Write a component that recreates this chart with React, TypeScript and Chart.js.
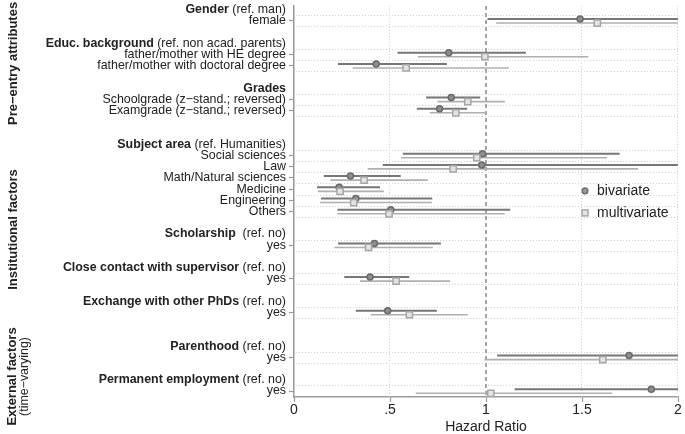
import React, { useEffect, useRef } from "react";
import { Chart, registerables } from "chart.js";

Chart.register(...registerables);

const FONT = "'Liberation Sans', Arial, Helvetica, sans-serif";

// Data rows (y positions are row indices in the coefplot layout)
const rowLabels = [
  "female",
  "father/mother with HE degree",
  "father/mother with doctoral degree",
  "Schoolgrade (z\u2212stand.; reversed)",
  "Examgrade (z\u2212stand.; reversed)",
  "Social sciences",
  "Law",
  "Math/Natural sciences",
  "Medicine",
  "Engineering",
  "Others",
  "yes",
  "yes",
  "yes",
  "yes",
  "yes",
];
const rowPositions = [1, 4, 5, 8, 9, 13, 14, 15, 16, 17, 18, 21, 24, 27, 31, 34];

const headerPositions = [0, 3, 7, 12, 20, 23, 26, 30, 33];
const headerBold = [
  "Gender",
  "Educ. background",
  "Grades",
  "Subject area",
  "Scholarship",
  "Close contact with supervisor",
  "Exchange with other PhDs",
  "Parenthood",
  "Permanent employment",
];
const headerNote = [
  " (ref. man)",
  " (ref. non acad. parents)",
  "",
  " (ref. Humanities)",
  "  (ref. no)",
  " (ref. no)",
  " (ref. no)",
  " (ref. no)",
  " (ref. no)",
];

const groupNames = ["Pre\u2212entry attributes", "Institutional factors", "External factors"];
const groupNotes = ["", "", "(time\u2212varying)"];
const groupCenters = [4.8, 19.6, 32.7];

// Hazard ratios and 95% CIs
const bivEst = [1.49, 0.806, 0.428, 0.819, 0.758, 0.982, 0.978, 0.294, 0.235, 0.322, 0.504, 0.419, 0.396, 0.488, 1.745, 1.861];
const bivLo = [1.008, 0.539, 0.229, 0.688, 0.64, 0.567, 0.462, 0.155, 0.12, 0.141, 0.226, 0.229, 0.262, 0.322, 1.058, 1.149];
const bivHi = [2.25, 1.208, 0.796, 0.97, 0.902, 1.696, 2.1, 0.556, 0.448, 0.72, 1.126, 0.765, 0.6, 0.744, 2.85, 3.0];
const multiEst = [1.58, 0.994, 0.584, 0.905, 0.843, 0.952, 0.829, 0.365, 0.24, 0.311, 0.495, 0.388, 0.532, 0.601, 1.608, 1.025];
const multiLo = [1.053, 0.645, 0.306, 0.747, 0.707, 0.558, 0.384, 0.189, 0.124, 0.136, 0.226, 0.21, 0.344, 0.4, 0.992, 0.634];
const multiHi = [2.3, 1.533, 1.119, 1.098, 0.996, 1.63, 1.792, 0.697, 0.468, 0.718, 1.097, 0.723, 0.813, 0.905, 2.6, 1.656];

const xTickValues = [0, 0.5, 1, 1.5, 2];
const xTickLabels = ["0", ".5", "1", "1.5", "2"];
const seriesNames = ["bivariate", "multivariate"];

const BIV_OFF = -0.16;
const MULTI_OFF = 0.2;

const BIV_LINE = "#777777";
const MULTI_LINE = "#b0b0b0";
const TEXT = "#222222";
const AXIS = "#9a9a9a";

function ciData(lo: number[], hi: number[], off: number) {
  const out: any[] = [];
  lo.forEach((l, i) => {
    out.push({ x: l, y: rowPositions[i] + off });
    out.push({ x: hi[i], y: rowPositions[i] + off });
    out.push({ x: NaN, y: NaN });
  });
  return out;
}
function estData(est: number[], off: number) {
  return est.map((e, i) => ({ x: e, y: rowPositions[i] + off }));
}

const overlayPlugin = {
  id: "overlay",
  beforeDatasetsDraw(chart: any) {
    const { ctx, chartArea: ca } = chart;
    const x = chart.scales.x;
    const y = chart.scales.y;
    ctx.save();
    ctx.strokeStyle = "#cfcfcf";
    ctx.lineWidth = 1;
    ctx.setLineDash([1, 2]);
    const gl = new Set<number>();
    rowPositions.forEach((p) => {
      gl.add(p - 0.5);
      gl.add(p + 0.5);
    });
    gl.forEach((v) => {
      const py = Math.round(y.getPixelForValue(v)) + 0.5;
      ctx.beginPath();
      ctx.moveTo(ca.left + 2, py);
      ctx.lineTo(ca.right, py);
      ctx.stroke();
    });
    [0.5, 1.5, 2].forEach((v) => {
      const px = Math.round(x.getPixelForValue(v)) - 0.5;
      ctx.beginPath();
      ctx.moveTo(px, ca.top);
      ctx.lineTo(px, ca.bottom);
      ctx.stroke();
    });
    ctx.setLineDash([4, 3]);
    ctx.strokeStyle = "#8a8a8a";
    ctx.lineWidth = 1.5;
    const p1 = x.getPixelForValue(1);
    ctx.beginPath();
    ctx.moveTo(p1, ca.top);
    ctx.lineTo(p1, ca.bottom);
    ctx.stroke();
    ctx.restore();
  },
  afterDraw(chart: any) {
    const { ctx, chartArea: ca } = chart;
    const y = chart.scales.y;
    ctx.save();
    // headers
    const rightX = ca.left - 8;
    ctx.textBaseline = "middle";
    ctx.fillStyle = TEXT;
    headerPositions.forEach((p, i) => {
      const py = y.getPixelForValue(p);
      ctx.font = `12.4px ${FONT}`;
      ctx.textAlign = "right";
      const noteW = ctx.measureText(headerNote[i]).width;
      ctx.fillText(headerNote[i], rightX, py);
      ctx.font = `bold 12.4px ${FONT}`;
      ctx.fillText(headerBold[i], rightX - noteW, py);
    });
    // group labels
    groupNames.forEach((g, i) => {
      const py = y.getPixelForValue(groupCenters[i]);
      ctx.save();
      ctx.translate(groupNotes[i] ? 12 : 13, py);
      ctx.rotate(-Math.PI / 2);
      ctx.textAlign = "center";
      ctx.font = `bold 13px ${FONT}`;
      ctx.fillText(g, 0, 0);
      if (groupNotes[i]) {
        ctx.font = `12.4px ${FONT}`;
        ctx.fillText(groupNotes[i], 0, 13);
      }
      ctx.restore();
    });
    // legend
    const lx = ca.right - 93;
    const ly1 = ca.top + 185;
    const ly2 = ca.top + 207;
    ctx.lineWidth = 1.5;
    ctx.strokeStyle = "#6e6e6e";
    ctx.fillStyle = "#9a9a9a";
    ctx.beginPath();
    ctx.arc(lx, ly1, 2.8, 0, Math.PI * 2);
    ctx.fill();
    ctx.stroke();
    ctx.strokeStyle = "#a8a8a8";
    ctx.fillStyle = "#e6e6e6";
    ctx.fillRect(lx - 3, ly2 - 3, 6, 6);
    ctx.strokeRect(lx - 3, ly2 - 3, 6, 6);
    ctx.fillStyle = TEXT;
    ctx.font = `14px ${FONT}`;
    ctx.textAlign = "left";
    ctx.fillText(seriesNames[0], lx + 12, ly1);
    ctx.fillText(seriesNames[1], lx + 12, ly2);
    ctx.restore();
  },
};

export default function App() {
  const ref = useRef<HTMLCanvasElement | null>(null);
  useEffect(() => {
    document.body.style.margin = "0";
    const canvas = ref.current;
    if (!canvas) return;
    Chart.defaults.font.family = FONT;
    const chart = new Chart(canvas, {
      type: "scatter",
      data: {
        datasets: [
          {
            type: "line",
            label: "bivariate CI",
            data: ciData(bivLo, bivHi, BIV_OFF),
            borderColor: BIV_LINE,
            borderWidth: 2,
            pointRadius: 0,
            showLine: true,
            spanGaps: false,
            order: 4,
          } as any,
          {
            type: "line",
            label: "multivariate CI",
            data: ciData(multiLo, multiHi, MULTI_OFF),
            borderColor: MULTI_LINE,
            borderWidth: 1.6,
            pointRadius: 0,
            showLine: true,
            spanGaps: false,
            order: 3,
          } as any,
          {
            label: seriesNames[0],
            data: estData(bivEst, BIV_OFF),
            pointStyle: "circle",
            pointRadius: 3,
            backgroundColor: "#8e8e8e",
            borderColor: "#6a6a6a",
            borderWidth: 1.5,
            order: 2,
          },
          {
            label: seriesNames[1],
            data: estData(multiEst, MULTI_OFF),
            pointStyle: "rect",
            pointRadius: 4.4,
            backgroundColor: "#e4e4e4",
            borderColor: "#a6a6a6",
            borderWidth: 1.5,
            order: 1,
          },
        ],
      },
      options: {
        responsive: false,
        animation: false,
        events: [],
        layout: { padding: { top: 4, right: 7, left: 0, bottom: 0 } },
        plugins: {
          legend: { display: false },
          tooltip: { enabled: false },
        },
        scales: {
          x: {
            type: "linear",
            min: 0,
            max: 2,
            afterBuildTicks: (scale: any) => {
              scale.ticks = xTickValues.map((v) => ({ value: v }));
            },
            afterFit: (scale: any) => {
              scale.height = 37;
            },
            ticks: {
              callback: (v: any) => {
                const i = xTickValues.indexOf(Number(v));
                return i >= 0 ? xTickLabels[i] : "";
              },
              font: { size: 14, family: FONT },
              color: TEXT,
              padding: 0,
              maxRotation: 0,
              autoSkip: false,
            },
            grid: {
              display: true,
              drawOnChartArea: false,
              drawTicks: true,
              tickLength: 5,
              tickColor: AXIS,
              tickWidth: 1.2,
            },
            border: { display: true, color: AXIS, width: 1.5 },
            title: {
              display: true,
              text: "Hazard Ratio",
              font: { size: 14, family: FONT },
              color: TEXT,
              padding: { top: 0, bottom: -2 },
            },
          },
          y: {
            type: "linear",
            reverse: true,
            min: -0.33,
            max: 34.53,
            afterBuildTicks: (scale: any) => {
              scale.ticks = rowPositions.map((v) => ({ value: v }));
            },
            afterFit: (scale: any) => {
              scale.width = 294;
              scale.paddingTop = 0;
              scale.paddingBottom = 0;
            },
            ticks: {
              callback: (v: any) => {
                const i = rowPositions.indexOf(Number(v));
                return i >= 0 ? rowLabels[i] : "";
              },
              font: { size: 12.4, family: FONT },
              color: TEXT,
              padding: 3,
              autoSkip: false,
            },
            grid: {
              display: true,
              drawOnChartArea: false,
              drawTicks: true,
              tickLength: 5,
              tickColor: AXIS,
              tickWidth: 1.2,
            },
            border: { display: true, color: AXIS, width: 1.5 },
          },
        },
      },
      plugins: [overlayPlugin],
    } as any);
    return () => chart.destroy();
  }, []);
  return (
    <div style={{ width: 685, height: 434 }}>
      <canvas ref={ref} width={685} height={434} style={{ display: "block" }} />
    </div>
  );
}
